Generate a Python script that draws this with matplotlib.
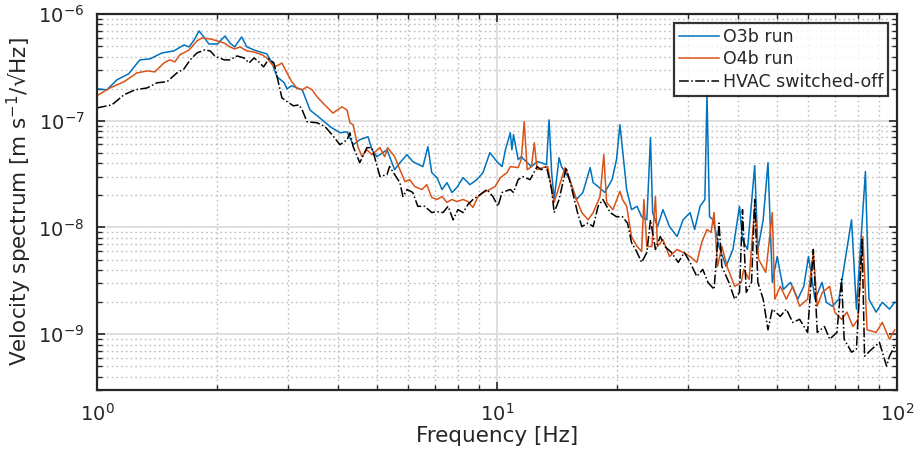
import numpy as np
import matplotlib
matplotlib.use("Agg")
import matplotlib.pyplot as plt
from matplotlib.ticker import LogLocator, NullFormatter

# ---- data (frequency in Hz, velocity spectrum in m s^-1 / sqrt(Hz)) ----
o3b_freq = [1.0, 1.059, 1.122, 1.20, 1.28, 1.357, 1.454, 1.556, 1.65, 1.70, 1.75, 1.80, 1.85, 1.905,
            2.0, 2.09, 2.15, 2.21, 2.30, 2.37, 2.47, 2.56, 2.66, 2.74, 2.82, 2.94, 2.985, 3.07, 3.16,
            3.26, 3.41, 3.61, 3.83, 4.05, 4.22, 4.37, 4.54, 4.76, 4.87, 5.01, 5.31, 5.55, 5.72, 5.96,
            6.16, 6.53, 6.72, 6.87, 7.08, 7.29, 7.50, 7.72, 7.94, 8.23, 8.56, 8.91, 9.23, 9.60, 10.0,
            10.3, 10.5, 10.8, 10.9, 11.0, 11.3, 11.5, 11.9, 12.2, 12.6, 12.9, 13.3, 13.5, 13.7, 13.9,
            14.3, 14.5, 15.2, 15.8, 16.4, 17.1, 17.4, 17.9, 18.6, 19.4, 19.9, 20.3, 20.6, 21.1, 21.7,
            22.4, 23.0, 23.7, 24.2, 24.5, 25.2, 26.0, 27.0, 28.2, 29.2, 30.4, 31.2, 32.2, 33.1, 33.5,
            34.0, 34.7, 35.9, 37.4, 38.9, 40.4, 41.1, 42.3, 44.1, 44.9, 46.3, 47.6, 48.8, 50.2, 52.0,
            54.2, 56.5, 58.5, 60.1, 62.4, 65.0, 66.6, 68.9, 71.6, 77.0, 79.2, 83.4, 85.1, 88.7, 91.9,
            95.8, 98.7]
o3b_vel = [1.99e-7, 1.95e-7, 2.42e-7, 2.75e-7, 3.72e-7, 3.80e-7, 4.32e-7, 4.51e-7, 5.13e-7, 4.92e-7,
           5.72e-7, 6.94e-7, 6.10e-7, 5.24e-7, 5.24e-7, 6.23e-7, 5.35e-7, 4.92e-7, 6.10e-7, 4.92e-7,
           4.61e-7, 4.41e-7, 4.23e-7, 3.48e-7, 2.58e-7, 2.27e-7, 1.99e-7, 2.13e-7, 2.03e-7, 1.95e-7,
           1.26e-7, 1.06e-7, 8.79e-8, 7.72e-8, 7.89e-8, 5.97e-8, 6.64e-8, 7.09e-8, 5.35e-8, 4.61e-8,
           5.35e-8, 3.48e-8, 4.05e-8, 4.81e-8, 4.14e-8, 3.72e-8, 5.72e-8, 3.27e-8, 2.93e-8, 2.27e-8,
           2.63e-8, 2.13e-8, 2.37e-8, 2.93e-8, 2.52e-8, 2.81e-8, 3.27e-8, 5.02e-8, 4.14e-8, 3.72e-8,
           5.35e-8, 7.72e-8, 5.35e-8, 7.40e-8, 4.32e-8, 4.61e-8, 4.05e-8, 3.72e-8, 4.14e-8, 4.05e-8,
           3.88e-8, 1.02e-7, 3.27e-8, 1.83e-8, 4.51e-8, 3.72e-8, 2.81e-8, 1.83e-8, 2.13e-8, 3.64e-8,
           2.63e-8, 2.42e-8, 2.13e-8, 2.81e-8, 4.32e-8, 9.17e-8, 5.35e-8, 2.27e-8, 1.47e-8, 1.58e-8,
           1.26e-8, 1.18e-8, 6.94e-8, 1.38e-8, 1.02e-8, 1.47e-8, 1.02e-8, 8.23e-9, 1.18e-8, 1.38e-8,
           9.58e-9, 1.58e-8, 1.83e-8, 1.75e-7, 1.26e-8, 1.18e-8, 6.64e-9, 4.32e-9, 6.23e-9, 1.58e-8,
           7.72e-9, 6.23e-9, 3.80e-8, 6.23e-9, 1.18e-8, 4.05e-8, 3.06e-9, 5.35e-9, 2.63e-9, 3.06e-9,
           2.13e-9, 2.81e-9, 5.35e-9, 2.13e-9, 3.06e-9, 1.99e-9, 1.83e-9, 2.13e-9, 1.18e-8, 1.72e-9,
           3.34e-8, 2.13e-9, 1.61e-9, 1.99e-9, 1.72e-9, 1.99e-9]

o4b_freq = [1.0, 1.078, 1.168, 1.259, 1.334, 1.396, 1.47, 1.52, 1.566, 1.61, 1.70, 1.778, 1.83, 1.92,
            2.0, 2.08, 2.15, 2.21, 2.28, 2.37, 2.47, 2.59, 2.66, 2.77, 2.85, 2.90, 2.985, 3.07, 3.16,
            3.26, 3.35, 3.45, 3.55, 3.67, 3.89, 4.10, 4.22, 4.29, 4.37, 4.49, 4.60, 4.73, 4.87, 5.10,
            5.24, 5.33, 5.55, 5.72, 5.89, 6.05, 6.23, 6.49, 6.68, 6.87, 7.08, 7.29, 7.50, 7.72, 7.94,
            8.23, 8.46, 8.71, 8.97, 9.23, 9.60, 9.89, 10.2, 10.6, 10.8, 11.3, 11.5, 11.7, 11.9, 12.2,
            12.4, 12.6, 13.0, 13.4, 13.7, 13.9, 14.3, 14.8, 15.2, 15.7, 16.3, 16.9, 17.4, 18.1, 18.5,
            18.8, 19.5, 20.3, 20.6, 21.1, 21.7, 22.4, 23.0, 23.3, 23.7, 24.4, 24.9, 25.2, 26.0, 27.0,
            28.2, 29.2, 30.4, 31.6, 32.5, 33.5, 34.3, 34.9, 35.6, 36.5, 37.6, 39.3, 40.8, 41.4, 42.7,
            44.1, 45.1, 47.0, 48.8, 49.5, 51.1, 52.9, 54.9, 57.1, 59.8, 61.8, 63.2, 65.1, 67.9, 69.9,
            72.7, 75.0, 77.6, 79.9, 82.2, 84.2, 88.7, 91.9, 95.8, 98.7]
o4b_vel = [1.72e-7, 2.03e-7, 2.32e-7, 2.81e-7, 2.93e-7, 2.87e-7, 3.48e-7, 3.72e-7, 3.56e-7, 4.14e-7,
           4.61e-7, 5.60e-7, 5.97e-7, 5.84e-7, 5.60e-7, 5.35e-7, 4.92e-7, 4.71e-7, 4.92e-7, 4.51e-7,
           4.41e-7, 4.14e-7, 3.88e-7, 3.20e-7, 3.34e-7, 3.48e-7, 2.81e-7, 2.32e-7, 2.03e-7, 1.95e-7,
           2.08e-7, 1.95e-7, 1.68e-7, 1.47e-7, 1.18e-7, 1.35e-7, 1.26e-7, 9.58e-8, 9.17e-8, 5.72e-8,
           4.61e-8, 5.35e-8, 4.81e-8, 5.60e-8, 4.61e-8, 5.60e-8, 4.61e-8, 3.48e-8, 2.69e-8, 2.81e-8,
           2.42e-8, 2.27e-8, 2.52e-8, 1.91e-8, 1.83e-8, 1.95e-8, 1.72e-8, 1.83e-8, 1.75e-8, 1.83e-8,
           1.75e-8, 1.54e-8, 1.95e-8, 2.13e-8, 2.27e-8, 2.42e-8, 2.93e-8, 3.27e-8, 3.72e-8, 3.64e-8,
           4.32e-8, 9.79e-8, 3.48e-8, 3.72e-8, 6.23e-8, 3.48e-8, 3.64e-8, 3.72e-8, 2.27e-8, 1.72e-8,
           2.42e-8, 3.64e-8, 2.81e-8, 1.95e-8, 1.38e-8, 1.18e-8, 1.38e-8, 1.95e-8, 4.81e-8, 1.72e-8,
           1.47e-8, 2.18e-8, 1.83e-8, 1.58e-8, 8.23e-9, 6.64e-9, 5.97e-9, 1.83e-8, 6.64e-9, 6.64e-9,
           1.95e-8, 6.64e-9, 7.72e-9, 5.35e-9, 6.23e-9, 5.84e-9, 5.35e-9, 4.71e-9, 7.24e-9, 9.58e-9,
           8.98e-9, 1.38e-8, 4.32e-9, 6.64e-9, 4.32e-9, 2.81e-9, 3.06e-9, 4.05e-9, 3.27e-9, 1.58e-8,
           5.02e-9, 3.80e-9, 1.38e-8, 2.13e-9, 2.81e-9, 2.13e-9, 2.81e-9, 1.83e-9, 2.13e-9, 5.84e-9,
           1.83e-9, 2.47e-9, 2.81e-9, 1.61e-9, 1.38e-9, 1.61e-9, 1.18e-9, 1.38e-9, 8.23e-9, 1.10e-9,
           1.04e-9, 1.29e-9, 8.98e-10, 1.10e-9]

hvac_freq = [1.0, 1.09, 1.168, 1.245, 1.334, 1.413, 1.496, 1.585, 1.65, 1.71, 1.778, 1.86, 1.92, 1.97,
             2.08, 2.15, 2.24, 2.33, 2.40, 2.47, 2.54, 2.61, 2.69, 2.77, 2.85, 2.90, 3.02, 3.10, 3.20,
             3.26, 3.35, 3.55, 3.72, 3.87, 4.05, 4.22, 4.29, 4.37, 4.54, 4.73, 4.87, 5.10, 5.31, 5.39,
             5.55, 5.72, 5.82, 5.96, 6.16, 6.34, 6.60, 6.87, 7.08, 7.33, 7.55, 7.77, 7.99, 8.23, 8.46,
             8.71, 9.07, 9.44, 9.77, 10.06, 10.3, 10.8, 11.0, 11.3, 11.6, 12.1, 12.6, 12.9, 13.3, 13.7,
             13.9, 14.3, 14.9, 15.4, 15.9, 16.3, 16.9, 17.4, 17.9, 18.4, 19.2, 19.9, 20.6, 21.2, 21.7,
             22.4, 23.0, 23.7, 24.2, 24.9, 25.6, 26.3, 27.3, 28.4, 29.4, 30.4, 31.6, 32.7, 33.7, 34.9,
             35.9, 36.5, 38.0, 39.3, 40.4, 41.1, 42.0, 43.3, 44.1, 44.9, 46.3, 47.6, 48.8, 51.1, 52.9,
             54.9, 57.1, 59.8, 61.8, 63.2, 65.9, 67.9, 70.8, 72.7, 73.8, 77.0, 79.2, 81.8, 83.0, 86.5,
             90.4, 94.2, 95.8, 98.7]
hvac_vel = [1.32e-7, 1.41e-7, 1.75e-7, 1.95e-7, 2.03e-7, 2.27e-7, 2.32e-7, 2.81e-7, 3.06e-7, 3.72e-7,
            4.32e-7, 4.61e-7, 4.51e-7, 4.05e-7, 3.72e-7, 3.72e-7, 4.05e-7, 3.88e-7, 3.48e-7, 3.88e-7,
            3.56e-7, 3.20e-7, 3.80e-7, 3.48e-7, 2.18e-7, 1.64e-7, 1.47e-7, 1.38e-7, 1.41e-7, 1.26e-7,
            9.79e-8, 9.58e-8, 8.79e-8, 7.40e-8, 5.97e-8, 6.64e-8, 7.72e-8, 5.72e-8, 4.05e-8, 5.60e-8,
            5.60e-8, 3.00e-8, 3.13e-8, 3.72e-8, 3.13e-8, 2.63e-8, 1.95e-8, 2.27e-8, 2.13e-8, 1.58e-8,
            1.58e-8, 1.38e-8, 1.41e-8, 1.38e-8, 1.58e-8, 1.18e-8, 1.47e-8, 1.38e-8, 1.64e-8, 1.83e-8,
            2.03e-8, 2.27e-8, 1.95e-8, 1.58e-8, 2.13e-8, 2.27e-8, 2.13e-8, 2.81e-8, 3.00e-8, 2.81e-8,
            3.72e-8, 3.48e-8, 3.72e-8, 2.27e-8, 1.38e-8, 1.83e-8, 3.64e-8, 2.27e-8, 1.38e-8, 1.02e-8,
            1.10e-8, 1.02e-8, 1.58e-8, 1.83e-8, 1.38e-8, 1.26e-8, 1.26e-8, 1.10e-8, 7.24e-9, 5.84e-9,
            4.71e-9, 5.84e-9, 1.18e-8, 6.23e-9, 8.23e-9, 6.64e-9, 5.84e-9, 4.71e-9, 5.84e-9, 4.71e-9,
            3.48e-9, 4.05e-9, 3.06e-9, 2.63e-9, 1.10e-8, 4.32e-9, 3.06e-9, 2.13e-9, 2.47e-9, 1.47e-8,
            2.47e-9, 3.06e-9, 1.83e-8, 3.06e-9, 2.13e-9, 1.10e-9, 1.72e-9, 1.47e-9, 1.72e-9, 1.29e-9,
            1.38e-9, 1.04e-9, 6.23e-9, 1.04e-9, 1.18e-9, 8.98e-10, 1.04e-9, 3.27e-9, 8.98e-10, 6.79e-10,
            7.24e-10, 7.72e-9, 6.23e-10, 7.24e-10, 8.40e-10, 5.02e-10, 6.23e-10, 7.72e-10]

labels = ["O3b run", "O4b run", "HVAC switched-off"]
colors = ["#0072BD", "#D95319", "black"]
x_range = (1, 100)
y_range = (3e-10, 1e-6)
x_ticks = [1, 10, 100]
y_ticks = [1e-9, 1e-8, 1e-7, 1e-6]

# ---- figure ----
plt.rcParams['font.family'] = ['DejaVu Sans']
fig = plt.figure(figsize=(9.19, 4.53), dpi=100)
ax = fig.add_axes([0.1055, 0.139, 0.8705, 0.830])

ax.loglog(o3b_freq, o3b_vel, color=colors[0], lw=1.1, label=labels[0])
ax.loglog(o4b_freq, o4b_vel, color=colors[1], lw=1.1, label=labels[1])
ax.loglog(hvac_freq, hvac_vel, color=colors[2], lw=1.1, ls='-.', label=labels[2])

ax.set_xlim(*x_range)
ax.set_ylim(*y_range)
ax.set_xticks(x_ticks)
ax.set_yticks(y_ticks)
ax.xaxis.set_minor_locator(LogLocator(base=10, subs=np.arange(2, 10), numticks=20))
ax.yaxis.set_minor_locator(LogLocator(base=10, subs=np.arange(2, 10), numticks=20))
ax.xaxis.set_minor_formatter(NullFormatter())
ax.yaxis.set_minor_formatter(NullFormatter())

ax.grid(which='major', color='#d9d9d9', lw=1.2, ls='-')
ax.grid(which='minor', color='#bdbdbd', lw=1.0, ls=(0, (1.2, 2.2)))
ax.set_axisbelow(True)

dark = '#262626'
for s in ax.spines.values():
    s.set_linewidth(1.6)
    s.set_color(dark)
ax.tick_params(which='both', direction='in', top=True, right=True, colors=dark,
               labelsize=14, labelcolor=dark)
ax.tick_params(which='major', length=6, width=1.2, pad=9)
ax.tick_params(which='minor', length=3.5, width=1.0)

ax.set_xlabel('Frequency [Hz]', fontsize=15.5, color=dark, labelpad=1)
ax.set_ylabel('Velocity spectrum [m s$^{-1}$/√Hz]', fontsize=15.5, color=dark, labelpad=3)

leg = ax.legend(loc='upper right', fontsize=12.5, frameon=True, fancybox=False,
                borderpad=0.3, labelspacing=0.25, handlelength=2.3, handletextpad=0.2,
                borderaxespad=0.5)
leg.get_frame().set_edgecolor('black')
leg.get_frame().set_linewidth(1.6)
for t in leg.get_texts():
    t.set_color(dark)

fig.savefig('out.png', dpi=100)
